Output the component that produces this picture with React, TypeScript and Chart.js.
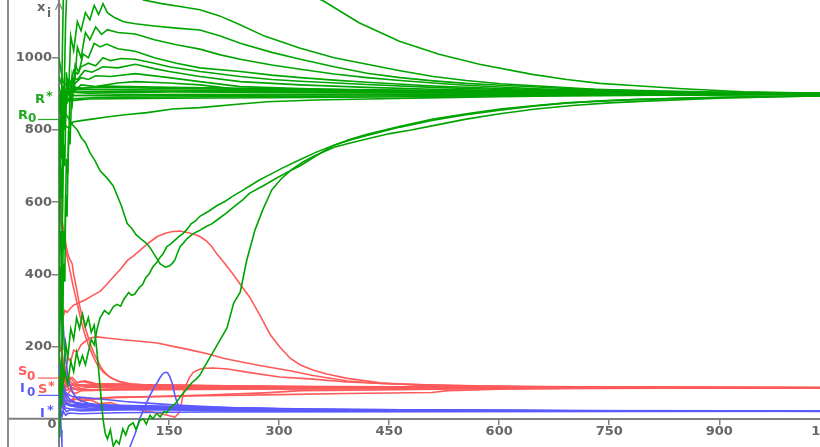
import { useEffect, useRef } from 'react';
import { Chart, registerables } from 'chart.js';

Chart.register(...registerables);

type Pt = [number, number];

// ---------- axis ticks / ranges ----------
const xTicks = [150, 300, 450, 600, 750, 900, 1050];
const yTicks = [200, 400, 600, 800, 1000];
const xRange = [0, 1100];
const yRange = [-78, 1160];

// ---------- reference marks ----------
const R_STAR = 900;
const R_INIT = 829;
const S_STAR = 86;
const S_INIT = 113;
const I_STAR = 22;
const I_INIT = 65;

// ---------- green (R) trajectories ----------
const rTop: Pt[] = [[0,400],[2,700],[4,950],[6,1180],[10,1400],[20,1560],[40,1620],[70,1580],[120,1480],[180,1370],[250,1270],[310,1200],[360,1158],[409,1097],[464,1046],[518,1010],[573,982],[645,954],[692,940],[737,929],[782,923],[850,914],[932,906],[1006,903],[1100,901]];
const rHigh: Pt[] = [[0,150],[2,420],[3,330],[5,640],[7,900],[9,1100],[12,1250],[20,1320],[40,1300],[70,1240],[100,1185],[115,1160],[140,1150],[165,1142],[192,1133],[219,1116],[246,1092],[280,1060],[328,1027],[375,1000],[420,982],[465,964],[510,948],[555,937],[602,928],[660,921],[730,913],[820,908],[900,905],[1000,902],[1100,900]];
const rF3: Pt[] = [[0,300],[2,520],[4,460],[6,760],[8,700],[10,960],[13,900],[16,1060],[20,1020],[25,1100],[30,1075],[36,1125],[42,1105],[48,1145],[54,1120],[60,1150],[66,1125],[75,1112],[88,1100],[104,1094],[130,1088],[160,1082],[192,1077],[220,1060],[247,1040],[290,1015],[329,996],[375,975],[420,957],[465,945],[510,936],[555,929],[601,924],[650,919],[700,914],[800,908],[900,904],[1000,902],[1100,900]];
const rF4: Pt[] = [[0,0],[1,-50],[2,90],[3,40],[4,260],[5,190],[6,430],[8,380],[9,620],[11,560],[13,800],[15,760],[18,950],[21,920],[25,1030],[30,1000],[36,1070],[42,1050],[50,1085],[58,1065],[66,1078],[80,1070],[104,1066],[130,1050],[160,1036],[192,1024],[220,1008],[247,996],[290,980],[329,968],[375,955],[420,945],[465,937],[510,930],[555,924],[601,919],[650,914],[700,911],[800,906],[900,903],[1000,901],[1100,900]];
const rF5: Pt[] = [[0,150],[2,330],[4,260],[6,520],[8,470],[10,720],[12,680],[15,900],[18,870],[22,980],[27,960],[33,1010],[40,1000],[48,1040],[56,1030],[65,1038],[80,1025],[104,1018],[130,1000],[160,985],[192,972],[247,962],[290,952],[329,945],[375,938],[420,932],[510,922],[601,915],[700,909],[800,905],[900,902],[1100,900]];
const rF6: Pt[] = [[0,880],[3,840],[6,910],[9,890],[12,940],[16,930],[20,965],[25,955],[30,975],[40,985],[50,978],[60,1000],[70,992],[85,998],[104,996],[130,985],[150,975],[192,962],[247,948],[290,940],[329,935],[420,926],[510,918],[601,912],[700,907],[850,903],[1100,900]];
const rF7: Pt[] = [[0,500],[2,700],[4,640],[6,850],[8,800],[11,920],[14,900],[18,945],[25,940],[35,965],[45,960],[60,975],[80,972],[104,982],[130,970],[150,962],[192,948],[247,934],[329,925],[420,918],[510,913],[601,909],[750,905],[900,902],[1100,900]];
const rF8: Pt[] = [[0,900],[3,870],[6,920],[10,905],[15,935],[20,925],[30,945],[40,940],[50,950],[70,948],[104,956],[150,945],[192,934],[247,920],[329,915],[420,910],[600,906],[800,903],[1100,900]];
const rF9: Pt[] = [[0,650],[2,800],[4,760],[6,890],[9,870],[12,910],[20,905],[30,925],[50,920],[80,930],[104,934],[150,930],[192,925],[247,912],[400,908],[600,904],[850,902],[1100,900]];
const rB1: Pt[] = [[0,1000],[3,960],[6,930],[10,925],[30,915],[60,922],[150,918],[300,914],[500,910],[700,906],[900,903],[1100,900]];
const rB2: Pt[] = [[0,850],[3,880],[6,870],[10,900],[20,905],[100,908],[300,906],[600,904],[850,902],[1100,900]];
const rB3: Pt[] = [[0,700],[2,820],[4,800],[7,880],[10,870],[15,895],[100,898],[300,899],[700,900],[1100,900]];
const rB4: Pt[] = [[0,870],[3,900],[6,880],[10,885],[50,890],[200,892],[500,895],[800,898],[1100,900]];
const rB5: Pt[] = [[0,780],[3,850],[6,830],[10,880],[40,886],[150,888],[350,890],[600,894],[900,897],[1100,899]];
const rB6: Pt[] = [[0,950],[4,920],[8,910],[40,912],[200,910],[500,906],[800,903],[1100,900]];
const rB7: Pt[] = [[0,600],[2,760],[4,720],[6,860],[9,900],[14,915],[60,918],[180,914],[400,909],[700,904],[1100,900]];
const rB8: Pt[] = [[0,920],[3,895],[7,905],[20,896],[90,894],[250,896],[500,898],[1100,900]];
const rB9: Pt[] = [[0,450],[2,650],[4,610],[6,820],[9,880],[14,905],[40,902],[150,905],[400,903],[800,901],[1100,900]];
const rInit: Pt[] = [[0,829],[2,790],[4,815],[6,800],[9,812],[13,805],[19,822],[30,826],[45,830],[65,836],[90,842],[120,848],[155,858],[192,862],[247,872],[284,878],[350,883],[420,886],[500,889],[600,892],[700,895],[800,896],[900,897],[1000,898],[1100,899]];
const rDip: Pt[] = [[0,850],[5,835],[10,842],[19,813],[25,800],[30,780],[36,765],[42,738],[49,715],[56,687],[65,668],[74,645],[80,615],[85,590],[93,541],[99,528],[105,510],[112,498],[120,485],[126,468],[130,455],[138,429],[145,420],[151,424],[155,432],[158,440],[162,462],[165,477],[170,488],[175,500],[183,513],[190,520],[200,532],[208,540],[215,550],[228,570],[240,590],[250,606],[260,625],[278,645],[295,665],[312,684],[329,701],[350,728],[374,757],[397,774],[420,788],[465,810],[510,830],[560,846],[601,858],[650,868],[693,875],[740,880],[783,884],[840,887],[897,890],[974,892],[1050,895],[1100,897]];
const rRise: Pt[] = [[0,120],[4,70],[8,130],[12,95],[16,160],[20,130],[24,185],[28,150],[32,175],[36,150],[40,185],[44,220],[48,205],[52,250],[56,280],[62,300],[68,290],[74,310],[79,317],[84,312],[88,330],[95,350],[99,342],[103,345],[110,365],[114,372],[118,390],[123,402],[128,421],[133,432],[137,445],[142,458],[147,477],[152,484],[158,495],[164,506],[169,513],[175,526],[180,540],[186,548],[192,561],[204,575],[215,590],[226,602],[237,617],[248,630],[260,645],[272,660],[284,673],[305,695],[329,718],[350,738],[374,757],[397,772],[420,785],[465,808],[510,827],[555,842],[601,855],[647,866],[693,875],[740,881],[783,884],[860,889],[933,892],[1020,895],[1100,897]];
const rNeg: Pt[] = [[0,60],[3,160],[6,120],[9,210],[12,170],[16,250],[20,220],[24,280],[28,250],[32,290],[36,255],[40,280],[44,240],[48,260],[52,180],[56,90],[60,0],[63,-40],[66,-56],[70,-30],[74,-76],[78,-60],[82,-70],[87,-28],[91,-45],[95,-20],[101,-11],[105,-30],[110,-5],[115,0],[119,-15],[124,10],[128,0],[133,15],[138,5],[143,20],[147,17],[151,30],[155,36],[160,45],[165,60],[169,70],[175,85],[181,100],[187,110],[192,121],[200,150],[210,185],[220,220],[229,252],[238,320],[247,351],[256,440],[267,522],[278,580],[290,634],[303,665],[317,690],[333,712],[350,730],[375,752],[397,764],[425,778],[451,790],[480,800],[510,812],[555,830],[601,845],[650,858],[700,868],[750,875],[800,880],[900,888],[1000,893],[1100,896]];

const greenRuns: Pt[][] = [rTop, rHigh, rF3, rF4, rF5, rF6, rF7, rF8, rF9, rB1, rB2, rB3, rB4, rB5, rB6, rB7, rB8, rB9, rInit, rDip, rRise, rNeg];

// ---------- red (S) trajectories ----------
const sA: Pt[] = [[0,690],[1,660],[2,640],[3,600],[4,555],[5,540],[7,510],[9,490],[11,466],[14,445],[18,429],[20,400],[22,381],[24,360],[26,337],[28,315],[30,297],[33,275],[36,250],[40,225],[44,200],[48,180],[53,160],[58,140],[64,125],[70,115],[78,106],[90,98],[110,94],[150,91],[250,89],[450,87],[700,86],[1100,86]];
const sB: Pt[] = [[0,575],[2,560],[3,540],[5,520],[7,490],[10,460],[13,430],[16,400],[19,370],[23,335],[27,300],[31,265],[35,235],[40,205],[46,175],[52,150],[60,130],[70,114],[82,104],[100,96],[140,92],[250,89],[500,87],[1100,86]];
const sC: Pt[] = [[0,320],[2,290],[4,310],[6,285],[8,300],[11,295],[15,305],[20,315],[28,322],[36,330],[46,342],[56,353],[65,372],[74,393],[84,415],[93,438],[102,452],[110,466],[122,487],[134,505],[145,514],[155,519],[165,520],[175,516],[184,511],[192,505],[200,494],[208,478],[215,457],[226,430],[237,401],[248,370],[260,337],[273,290],[288,233],[301,199],[315,168],[329,149],[346,135],[365,124],[393,112],[438,100],[483,94],[540,91],[620,89],[750,87],[900,86],[1100,86]];
const sD: Pt[] = [[0,60],[2,110],[4,80],[6,140],[9,120],[12,170],[16,160],[20,190],[25,185],[30,205],[36,215],[42,224],[52,227],[65,224],[87,219],[110,215],[134,210],[157,200],[179,191],[202,180],[224,168],[247,158],[270,149],[293,141],[315,133],[346,120],[393,105],[438,98],[500,94],[570,91],[650,89],[800,87],[1100,86]];
const sE: Pt[] = [[0,45],[3,75],[6,55],[10,70],[15,50],[22,62],[30,48],[40,55],[55,42],[70,45],[85,35],[100,30],[115,22],[130,18],[143,12],[152,8],[158,5],[163,15],[167,45],[170,75],[173,93],[178,115],[183,129],[190,136],[197,140],[210,141],[230,138],[260,128],[301,116],[346,110],[393,102],[450,97],[520,93],[620,90],[750,88],[1100,86]];
const sF: Pt[] = [[0,100],[2,70],[4,95],[7,75],[10,92],[15,80],[22,90],[30,84],[45,88],[80,85],[200,87],[500,86],[1100,86]];
const sG: Pt[] = [[0,150],[2,120],[4,135],[7,105],[10,110],[15,92],[25,95],[40,93],[60,96],[150,93],[300,90],[600,87],[1100,86]];
const sH: Pt[] = [[0,60],[2,85],[4,70],[7,95],[10,78],[16,85],[25,80],[60,82],[200,83],[500,85],[1100,86]];
const sI: Pt[] = [[0,230],[2,190],[4,200],[6,150],[9,130],[12,110],[18,98],[25,92],[40,90],[80,88],[300,87],[1100,86]];
const sJ: Pt[] = [[0,80],[3,55],[6,75],[10,62],[15,78],[22,70],[30,78],[80,80],[250,82],[600,85],[1100,86]];
const sK: Pt[] = [[0,113],[2,130],[4,105],[7,125],[10,100],[15,115],[22,98],[30,104],[45,97],[60,96],[120,94],[200,92],[350,89],[500,88],[1100,86]];
const sL: Pt[] = [[0,25],[3,45],[6,35],[10,52],[16,48],[25,56],[40,55],[80,60],[150,62],[200,64],[301,67],[393,70],[508,73],[530,78],[600,82],[700,84],[1100,86]];
const sM: Pt[] = [[0,40],[3,30],[6,50],[12,42],[20,55],[35,50],[60,58],[100,60],[200,66],[280,72],[330,78],[430,80],[600,84],[800,85],[1100,86]];
const sN: Pt[] = [[0,180],[2,140],[4,160],[6,120],[9,140],[13,105],[18,115],[25,100],[35,105],[50,98],[90,95],[180,92],[300,89],[600,87],[1100,86]];
const sO: Pt[] = [[0,90],[3,110],[6,82],[10,96],[20,84],[40,80],[100,82],[250,84],[450,85],[1100,86]];
const sP: Pt[] = [[0,130],[3,100],[6,118],[10,90],[20,95],[50,92],[120,90],[250,88],[420,87],[1100,86]];

const redRuns: Pt[][] = [sA, sB, sC, sD, sE, sF, sG, sH, sI, sJ, sK, sL, sM, sN, sO, sP];

// ---------- blue (I) trajectories ----------
const iA: Pt[] = [[0,400],[1,405],[2,370],[3,345],[4,320],[5,290],[6,250],[7,220],[8,190],[10,150],[12,120],[14,100],[17,82],[20,68],[24,58],[30,50],[40,43],[55,38],[80,34],[120,31],[200,28],[350,25],[600,23],[1100,21]];
const iB: Pt[] = [[0,65],[1,45],[2,10],[3,-30],[4,-70],[5,-100],[8,-140],[20,-180],[40,-200],[60,-190],[80,-150],[90,-110],[97,-76],[104,-40],[110,0],[117,33],[124,65],[129,84],[134,101],[138,115],[142,126],[145,129],[148,128],[151,117],[154,101],[156,84],[158,65],[161,45],[165,28],[170,24],[180,23],[250,22],[500,21],[1100,21]];
const iC: Pt[] = [[0,65],[2,90],[4,75],[6,95],[9,70],[12,60],[16,52],[22,46],[30,43],[45,40],[80,37],[150,33],[250,29],[330,26],[400,25],[600,23],[1100,21]];
const iD: Pt[] = [[0,30],[2,50],[4,38],[7,55],[10,40],[15,36],[25,33],[40,34],[60,31],[120,29],[250,27],[330,24],[500,23],[1100,21]];
const iE: Pt[] = [[0,10],[2,28],[4,15],[7,30],[10,20],[15,25],[30,22],[60,24],[100,25],[200,24],[400,22],[1100,21]];
const iF: Pt[] = [[0,150],[1,120],[2,135],[3,100],[5,90],[8,75],[12,68],[18,62],[26,60],[40,58],[55,55],[70,52],[90,48],[110,45],[130,42],[160,38],[200,34],[250,30],[300,28],[400,26],[550,24],[700,22],[1100,21]];
const iG: Pt[] = [[0,0],[2,18],[4,6],[6,20],[9,10],[13,16],[30,14],[80,17],[200,19],[500,20],[1100,21]];
const iH: Pt[] = [[0,45],[2,70],[4,55],[6,80],[9,60],[12,50],[20,45],[30,40],[60,38],[150,35],[250,30],[350,27],[465,25],[600,23],[926,22],[1100,20]];
const iI: Pt[] = [[0,100],[2,75],[4,85],[6,60],[9,48],[13,38],[20,34],[40,30],[80,28],[200,26],[330,24],[500,22],[1100,21]];
const iJ: Pt[] = [[0,20],[2,40],[5,30],[9,42],[15,38],[30,36],[70,33],[140,31],[220,29],[300,27],[330,24],[600,22],[1100,21]];
const iK: Pt[] = [[0,55],[2,35],[5,48],[9,30],[15,28],[40,27],[100,26],[200,25],[300,24],[465,23],[1100,21]];
const iL: Pt[] = [[0,75],[2,55],[5,62],[9,45],[15,40],[30,38],[60,36],[120,34],[200,31],[280,29],[330,26],[470,24],[700,22],[1100,21]];

const blueRuns: Pt[][] = [iA, iB, iC, iD, iE, iF, iG, iH, iI, iJ, iK, iL];

// ---------- styles ----------
const GREEN = '#00a400';
const RED = '#ff5a5a';
const BLUE = '#5a5aff';
const GREEN_TXT = '#22aa22';
const AXIS = '#808080';
const TEXT = '#666666';
const FRAME = '#8c8c8c';
const FONT_FAMILY = "'DejaVu Sans', sans-serif";

const mk = (runs: Pt[][], color: string) =>
  runs.map((r) => ({
    data: r.map(([x, y]) => ({ x, y })),
    borderColor: color,
    backgroundColor: color,
    borderWidth: 1.6,
    pointRadius: 0,
    tension: 0,
    fill: false,
  }));

const deco = {
  id: 'deco',
  afterDraw(chart: any) {
    const { ctx, chartArea } = chart;
    const ys = chart.scales.y;
    const xs = chart.scales.x;
    const py = (v: number) => ys.getPixelForValue(v);
    const ax = xs.left;
    const y0 = py(0);
    ctx.save();
    // frame
    ctx.strokeStyle = FRAME;
    ctx.lineWidth = 2;
    ctx.beginPath();
    ctx.moveTo(8, 0);
    ctx.lineTo(8, chartArea.bottom + 1);
    ctx.lineTo(chart.width, chartArea.bottom + 1);
    ctx.stroke();
    // x axis extension to the frame
    ctx.strokeStyle = AXIS;
    ctx.lineWidth = 2;
    ctx.beginPath();
    ctx.moveTo(8, y0);
    ctx.lineTo(ax, y0);
    ctx.stroke();
    // arrow head on y axis
    ctx.lineWidth = 1.2;
    ctx.beginPath();
    ctx.moveTo(ax - 3.5, 10);
    ctx.lineTo(ax, 2);
    ctx.lineTo(ax + 3.5, 10);
    ctx.stroke();

    ctx.textBaseline = 'alphabetic';
    ctx.textAlign = 'left';
    const big = `bold 13px ${FONT_FAMILY}`;
    const sub = `bold 12px ${FONT_FAMILY}`;
    // x_i
    ctx.fillStyle = TEXT;
    ctx.font = big;
    ctx.fillText('x', 37, 11);
    ctx.font = sub;
    ctx.fillText('i', 47, 17);
    // origin label
    ctx.font = big;
    ctx.textAlign = 'center';
    ctx.fillText('0', 52, 428);
    ctx.textAlign = 'left';

    const initLine = (v: number, color: string) => {
      ctx.strokeStyle = color;
      ctx.lineWidth = 1.2;
      ctx.beginPath();
      ctx.moveTo(38, py(v));
      ctx.lineTo(ax, py(v));
      ctx.stroke();
    };
    // R
    ctx.fillStyle = GREEN_TXT;
    ctx.font = big;
    ctx.fillText('R', 35, py(R_STAR) + 9.5);
    ctx.fillText('*', 46, py(R_STAR) + 6);
    ctx.fillText('R', 18, py(R_INIT) - 1);
    ctx.font = sub;
    ctx.fillText('0', 28, py(R_INIT) + 2.5);
    initLine(R_INIT, GREEN_TXT);
    // S
    ctx.fillStyle = RED;
    ctx.font = big;
    ctx.fillText('S', 18, py(S_INIT) - 3);
    ctx.font = sub;
    ctx.fillText('0', 27, py(S_INIT) + 2);
    initLine(S_INIT, RED);
    ctx.font = big;
    ctx.fillText('S', 38, py(S_STAR) + 5.5);
    ctx.fillText('*', 48, py(S_STAR) + 2);
    // I
    ctx.fillStyle = BLUE;
    ctx.font = big;
    ctx.fillText('I', 20, py(I_INIT) - 3);
    ctx.font = sub;
    ctx.fillText('0', 27, py(I_INIT) + 0.5);
    initLine(I_INIT, BLUE);
    ctx.font = big;
    ctx.fillText('I', 40, py(I_STAR) + 6.5);
    ctx.fillText('*', 47, py(I_STAR) + 3);
    ctx.restore();
  },
};

export default function App() {
  const ref = useRef<HTMLCanvasElement | null>(null);
  useEffect(() => {
    if (!ref.current) return;
    const font = { family: FONT_FAMILY, size: 13, weight: 'bold' as const };
    const chart = new Chart(ref.current, {
      type: 'line',
      data: {
        datasets: [...mk(greenRuns, GREEN), ...mk(blueRuns, BLUE), ...mk(redRuns, RED)] as any,
      },
      options: {
        responsive: false,
        animation: false,
        events: [],
        layout: { padding: 0 },
        plugins: { legend: { display: false }, tooltip: { enabled: false } },
        scales: {
          x: {
            type: 'linear',
            min: xRange[0],
            max: xRange[1],
            position: { y: 0 } as any,
            afterBuildTicks: (s: any) => {
              s.ticks = xTicks.map((v) => ({ value: v }));
            },
            afterFit: (s: any) => {
              s.height = 6;
              s.paddingLeft = 0;
              s.paddingRight = 0;
            },
            grid: { drawOnChartArea: false, tickLength: 5, color: AXIS, lineWidth: 1.5 },
            border: { color: AXIS, width: 2 },
            ticks: {
              color: TEXT,
              font,
              padding: 0,
              maxRotation: 0,
              autoSkip: false,
              callback: (v: any) => String(v),
            },
          },
          y: {
            type: 'linear',
            min: yRange[0],
            max: yRange[1],
            afterBuildTicks: (s: any) => {
              s.ticks = yTicks.map((v) => ({ value: v }));
            },
            afterFit: (s: any) => {
              s.width = 59;
              s.paddingTop = 0;
              s.paddingBottom = 0;
            },
            grid: { drawOnChartArea: false, tickLength: 7, color: AXIS, lineWidth: 1.5 },
            border: { color: AXIS, width: 2 },
            ticks: { color: TEXT, font, padding: 0, callback: (v: any) => String(v) },
          },
        },
      },
      plugins: [deco],
    });
    return () => chart.destroy();
  }, []);
  return (
    <div
      style={{
        position: 'fixed',
        left: 0,
        top: 0,
        width: 820,
        height: 447,
        overflow: 'hidden',
        background: '#ffffff',
      }}
    >
      <canvas ref={ref} width={866} height={447} style={{ display: 'block' }} />
    </div>
  );
}
